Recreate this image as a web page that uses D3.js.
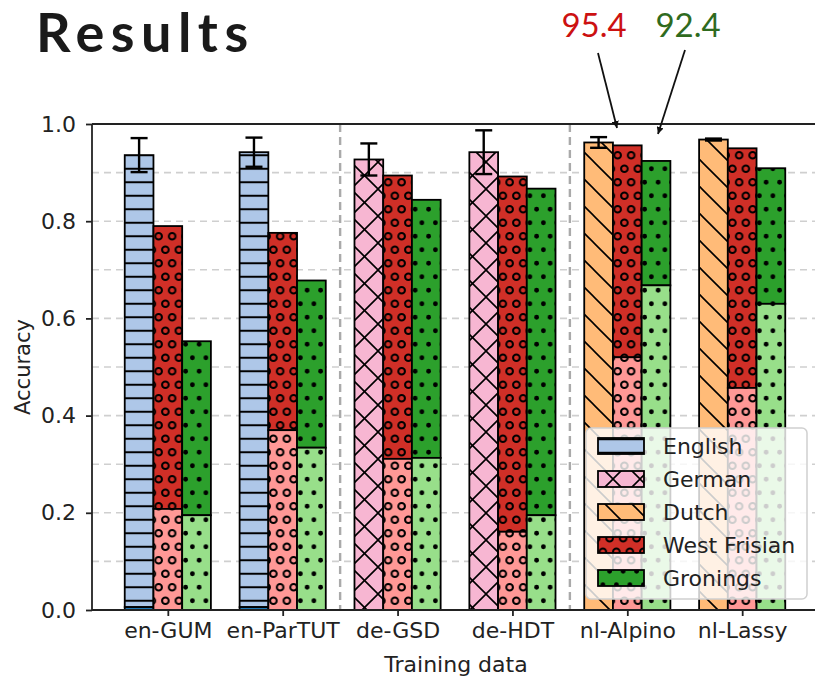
<!DOCTYPE html>
<html>
<head>
<meta charset="utf-8">
<script src="https://cdn.jsdelivr.net/npm/d3@7"></script>
<style>
  body { margin: 0; background: #fff; }
  svg text { font-family: "DejaVu Sans", sans-serif; }
  .title { font-family: Lato, "Open Sans", sans-serif; font-weight: 700; }
  .note { font-family: Lato, "Open Sans", sans-serif; }
</style>
</head>
<body>
<div id="chart"></div>
<script>
// data
const categories = ['en-GUM', 'en-ParTUT', 'de-GSD', 'de-HDT', 'nl-Alpino', 'nl-Lassy']
const sourceLang = ['English', 'English', 'German', 'German', 'Dutch', 'Dutch']
const sourceAcc = [0.936, 0.942, 0.927, 0.942, 0.962, 0.968]
const sourceLow = [0.006, 0.006, 0, 0, 0, 0]
const sourceErr = [0.035, 0.030, 0.033, 0.045, 0.011, 0.002]
const frisianAcc = [0.790, 0.776, 0.894, 0.892, 0.956, 0.950]
const frisianLow = [0.208, 0.370, 0.311, 0.161, 0.520, 0.457]
const groningsAcc = [0.553, 0.678, 0.844, 0.867, 0.924, 0.909]
const groningsLow = [0.195, 0.334, 0.313, 0.195, 0.668, 0.630]
const yTicks = [0, 0.2, 0.4, 0.6, 0.8, 1.0]
const yGrid = [0.1, 0.2, 0.3, 0.4, 0.5, 0.6, 0.7, 0.8, 0.9]
const separators = [1.5, 3.5]
const legendLabels = ['English', 'German', 'Dutch', 'West Frisian', 'Gronings']
const notes = [{ text: '95.4', color: '#cc1111' }, { text: '92.4', color: '#2f6b1e' }]

const width = 815
const height = 678
const margin = { left: 92, top: 124, bottom: 610, right: 818 }
const textColor = '#222'

const svg = d3.select('#chart').append('svg')
  .attr('width', width)
  .attr('height', height)

const x = d3.scaleLinear().domain([-0.66, 5.66]).range([margin.left, margin.right])
const y = d3.scaleLinear().domain([0, 1]).range([margin.bottom, margin.top])
const barW = x(0.25) - x(0)

// hatch patterns, one per fill colour
const defs = svg.append('defs')
function makePattern(id, color, kind) {
  const s = 13.5
  const p = defs.append('pattern').attr('id', id).attr('patternUnits', 'userSpaceOnUse')
  if (kind === '-') {
    p.attr('width', 10).attr('height', s)
    p.append('rect').attr('width', 10).attr('height', s).attr('fill', color)
    p.append('line').attr('x1', 0).attr('x2', 10).attr('y1', s / 2).attr('y2', s / 2)
      .attr('stroke', '#000').attr('stroke-width', 2)
  } else if (kind === 'x' || kind === '\\') {
    const t = 27
    p.attr('width', t).attr('height', t)
    p.append('rect').attr('width', t).attr('height', t).attr('fill', color)
    p.append('path').attr('d', `M0,0L${t},${t}M-3,${t - 3}L3,${t + 3}M${t - 3},-3L${t + 3},3`)
      .attr('stroke', '#000').attr('stroke-width', 1.6)
    if (kind === 'x') {
      p.append('path').attr('d', `M0,${t}L${t},0M-3,3L3,-3M${t - 3},${t + 3}L${t + 3},${t - 3}`)
        .attr('stroke', '#000').attr('stroke-width', 1.6)
    }
  } else if (kind === 'o' || kind === '.') {
    p.attr('width', s).attr('height', 2 * s)
    p.append('rect').attr('width', s).attr('height', 2 * s).attr('fill', color)
    const pts = [[s / 4, s / 2], [s * 3 / 4, s * 1.5]]
    pts.forEach(([cx, cy]) => {
      [-s, 0, s].forEach(dx => {
        const c = p.append('circle').attr('cx', cx + dx).attr('cy', cy)
        if (kind === 'o') c.attr('r', 3.3).attr('fill', 'none').attr('stroke', '#000').attr('stroke-width', 2)
        else c.attr('r', 2.4).attr('fill', '#000')
      })
    })
  }
}
makePattern('h-en', '#aec7e8', '-')
makePattern('h-en-low', '#1f77b4', '-')
makePattern('h-de', '#f7b6d2', 'x')
makePattern('h-nl', '#ffbb78', '\\')
makePattern('h-fy', '#d02f27', 'o')
makePattern('h-fy-low', '#ff9896', 'o')
makePattern('h-gro', '#2ca02c', '.')
makePattern('h-gro-low', '#98df8a', '.')
const srcPattern = { English: 'h-en', German: 'h-de', Dutch: 'h-nl' }
const legendPattern = ['h-en', 'h-de', 'h-nl', 'h-fy', 'h-gro']

// grid
svg.append('g').selectAll('line').data(yGrid).join('line')
  .attr('x1', margin.left).attr('x2', margin.right)
  .attr('y1', d => y(d)).attr('y2', d => y(d))
  .attr('stroke', '#cfcfcf').attr('stroke-width', 1.6).attr('stroke-dasharray', '7,5')

svg.append('g').selectAll('line').data(separators).join('line')
  .attr('x1', d => x(d)).attr('x2', d => x(d))
  .attr('y1', margin.top).attr('y2', margin.bottom)
  .attr('stroke', '#aaa').attr('stroke-width', 2.4).attr('stroke-dasharray', '8,5')

// bars
const bars = []
categories.forEach((c, i) => {
  bars.push({ i, j: -1, y0: sourceLow[i], y1: sourceAcc[i], fill: srcPattern[sourceLang[i]] })
  if (sourceLow[i] > 0) bars.push({ i, j: -1, y0: 0, y1: sourceLow[i], fill: 'h-en-low' })
  bars.push({ i, j: 0, y0: frisianLow[i], y1: frisianAcc[i], fill: 'h-fy' })
  bars.push({ i, j: 0, y0: 0, y1: frisianLow[i], fill: 'h-fy-low' })
  bars.push({ i, j: 1, y0: groningsLow[i], y1: groningsAcc[i], fill: 'h-gro' })
  bars.push({ i, j: 1, y0: 0, y1: groningsLow[i], fill: 'h-gro-low' })
})
svg.append('g').selectAll('rect').data(bars).join('rect')
  .attr('x', d => x(d.i + d.j * 0.25) - barW / 2)
  .attr('width', barW)
  .attr('y', d => y(d.y1))
  .attr('height', d => y(d.y0) - y(d.y1))
  .attr('fill', d => `url(#${d.fill})`)
  .attr('stroke', '#000').attr('stroke-width', 1.8)

// error bars on source-language bars
const err = svg.append('g').attr('stroke', '#000').attr('stroke-width', 2.4)
categories.forEach((c, i) => {
  const cx = x(i - 0.25)
  const lo = y(sourceAcc[i] - sourceErr[i])
  const hi = y(sourceAcc[i] + sourceErr[i])
  err.append('line').attr('x1', cx).attr('x2', cx).attr('y1', lo).attr('y2', hi)
  err.append('line').attr('x1', cx - 8.5).attr('x2', cx + 8.5).attr('y1', lo).attr('y2', lo)
  err.append('line').attr('x1', cx - 8.5).attr('x2', cx + 8.5).attr('y1', hi).attr('y2', hi)
})

// axes
const yAxis = svg.append('g').attr('transform', `translate(${margin.left},0)`)
  .call(d3.axisLeft(y).tickValues(yTicks).tickFormat(d3.format('.1f')).tickSize(6).tickPadding(10))
const xAxis = svg.append('g').attr('transform', `translate(0,${margin.bottom})`)
  .call(d3.axisBottom(x).tickValues(d3.range(categories.length)).tickFormat(i => categories[i]).tickSize(6).tickPadding(6))
;[yAxis, xAxis].forEach(a => {
  a.select('.domain').remove()
  a.selectAll('line').attr('stroke', textColor).attr('stroke-width', 1.8)
  a.selectAll('text').style('font-size', '22px').style('fill', textColor)
})
const frame = [
  [margin.left, margin.top, margin.right, margin.top],
  [margin.left, margin.bottom, margin.right, margin.bottom],
  [margin.left, margin.top, margin.left, margin.bottom]
]
svg.append('g').selectAll('line').data(frame).join('line')
  .attr('x1', d => d[0]).attr('y1', d => d[1]).attr('x2', d => d[2]).attr('y2', d => d[3])
  .attr('stroke', textColor).attr('stroke-width', 1.8)

svg.append('text').attr('x', 456).attr('y', 672).attr('text-anchor', 'middle')
  .style('font-size', '22px').style('fill', textColor).text('Training data')
svg.append('text').attr('transform', `translate(30,${(margin.top + margin.bottom) / 2}) rotate(-90)`)
  .attr('text-anchor', 'middle').style('font-size', '21px').style('fill', textColor).text('Accuracy')

// legend
const lg = svg.append('g').attr('transform', 'translate(586,428)')
lg.append('rect').attr('width', 221).attr('height', 171).attr('rx', 5)
  .attr('fill', '#fff').attr('fill-opacity', 0.8).attr('stroke', '#d0d0d0').attr('stroke-width', 1.5)
legendLabels.forEach((l, k) => {
  const row = lg.append('g').attr('transform', `translate(0,${18 + k * 33})`)
  row.append('rect').attr('x', 12).attr('y', -8).attr('width', 46).attr('height', 16)
    .attr('fill', `url(#${legendPattern[k]})`).attr('stroke', '#000').attr('stroke-width', 1.8)
  row.append('text').attr('x', 77).attr('y', 8).style('font-size', '22px').style('fill', textColor).text(l)
})

// title and annotations
svg.append('text').attr('class', 'title').attr('x', 36).attr('y', 52)
  .style('font-size', '54px').style('letter-spacing', '6.5px').style('fill', '#1a1a1a').text('Results')

svg.append('defs').append('marker')
  .attr('id', 'arrowHead')
  .attr('viewBox', '0 -5 10 10')
  .attr('refX', 10).attr('refY', 0)
  .attr('markerWidth', 7).attr('markerHeight', 7)
  .attr('markerUnits', 'userSpaceOnUse')
  .attr('orient', 'auto')
  .append('path').attr('d', 'M0,-5L10,0L0,5Z').attr('fill', '#111')
const noteX = [594, 688]
const arrows = [[598, 53, 617, 128], [685, 50, 658, 134]]
notes.forEach((n, k) => {
  svg.append('text').attr('class', 'note').attr('x', noteX[k]).attr('y', 37)
    .attr('text-anchor', 'middle').style('font-size', '33px').style('fill', n.color).text(n.text)
  const a = arrows[k]
  svg.append('line').attr('x1', a[0]).attr('y1', a[1]).attr('x2', a[2]).attr('y2', a[3])
    .attr('stroke', '#111').attr('stroke-width', 1.8).attr('marker-end', 'url(#arrowHead)')
})
</script>
</body>
</html>
